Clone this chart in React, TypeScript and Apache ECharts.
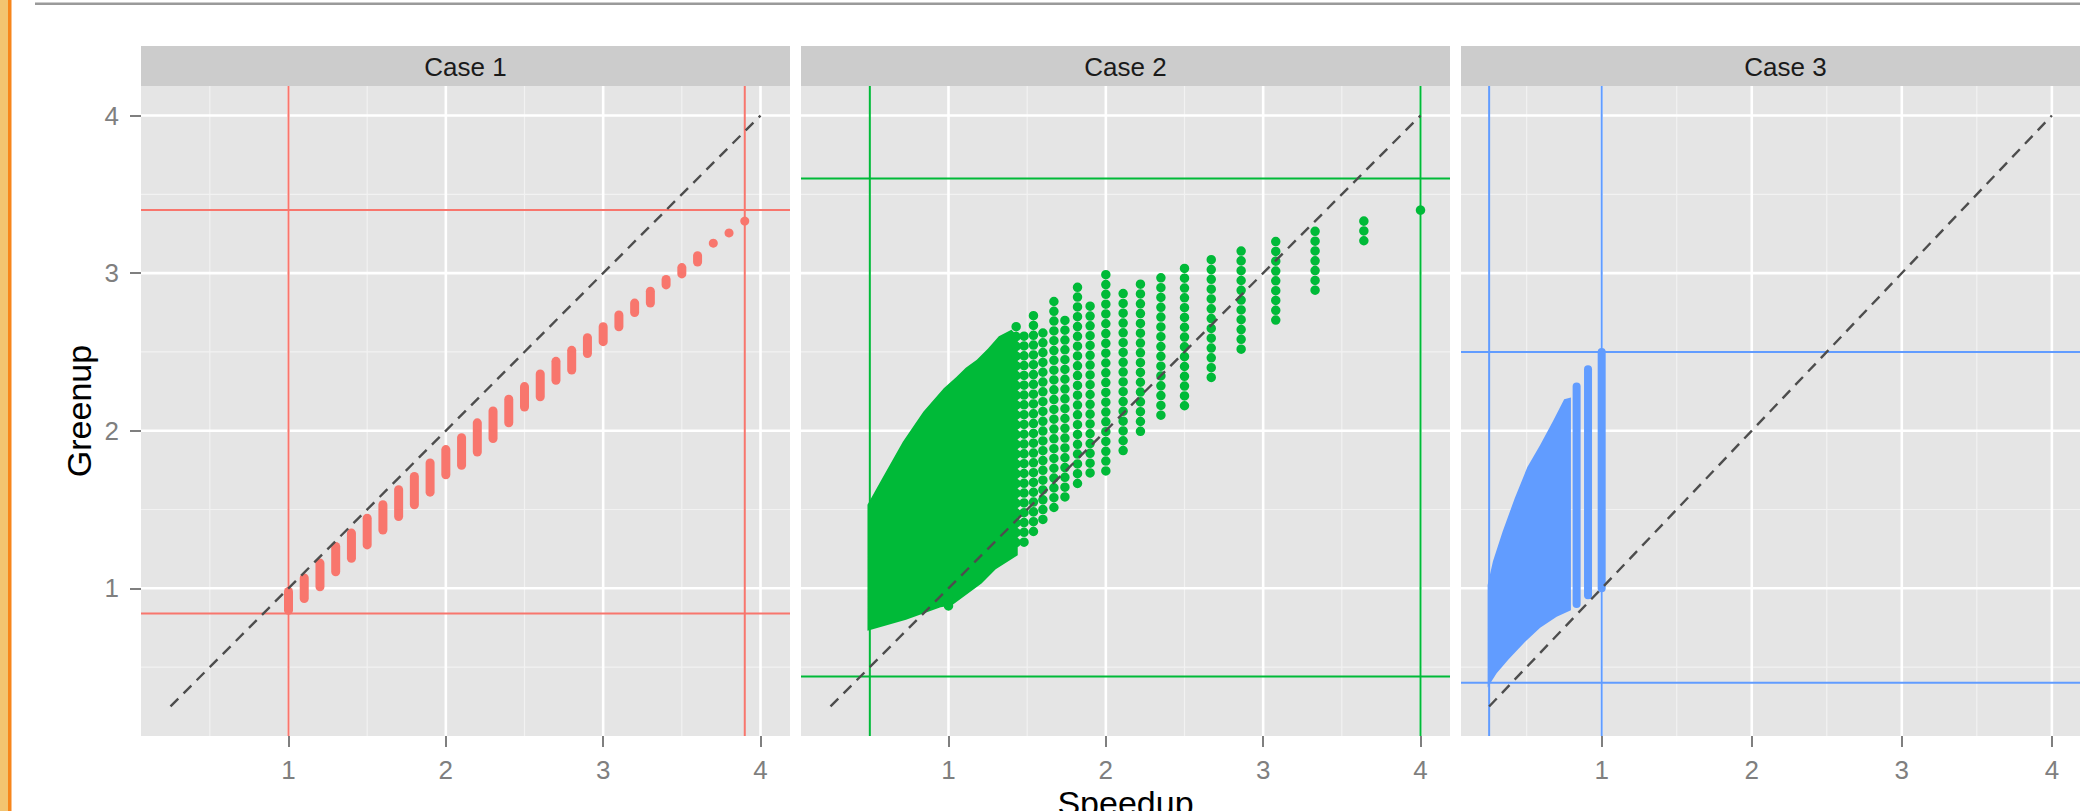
import React, { useEffect, useRef } from "react";
import * as echarts from "echarts";

// ---------- axis / scale ----------
const AXIS_MIN = 0.0625;
const AXIS_MAX = 4.1875;
const tickValues = [1, 2, 3, 4];
const tickLabels = ["1", "2", "3", "4"];
const minorGridValues = [0.5, 1.5, 2.5, 3.5];
const panelTitles = ["Case 1", "Case 2", "Case 3"];
const panelColors = ["#F8766D", "#00BA38", "#619CFF"];
const xTitle = "Speedup";
const yTitle = "Greenup";

// identity reference (dashed)
const diagX = [0.25, 4];
const diagY = [0.25, 4];

// ---------- Case 1 ----------
const case1X = [1.0, 1.1, 1.2, 1.3, 1.4, 1.5, 1.6, 1.7, 1.8, 1.9, 2.0, 2.1, 2.2, 2.3, 2.4, 2.5, 2.6, 2.7, 2.8, 2.9, 3.0, 3.1, 3.2, 3.3, 3.4, 3.5, 3.6, 3.7, 3.8, 3.9];
const case1Top = [0.98, 1.065, 1.16, 1.265, 1.35, 1.445, 1.53, 1.625, 1.71, 1.795, 1.88, 1.955, 2.05, 2.125, 2.2, 2.28, 2.36, 2.44, 2.51, 2.59, 2.66, 2.735, 2.81, 2.885, 2.96, 3.035, 3.11, 3.19, 3.255, 3.33];
const case1Bottom = [0.86, 0.935, 1.01, 1.105, 1.19, 1.275, 1.37, 1.455, 1.53, 1.61, 1.72, 1.78, 1.865, 1.95, 2.05, 2.15, 2.215, 2.32, 2.385, 2.49, 2.565, 2.66, 2.75, 2.81, 2.925, 2.995, 3.07, 3.19, 3.255, 3.33];
const case1VLines = [1.0, 3.9];
const case1HLines = [0.84, 3.4];

// ---------- Case 2 ----------
const case2X = [4.0, 3.64, 3.33, 3.08, 2.86, 2.67, 2.5, 2.35, 2.22, 2.11, 2.0, 1.9, 1.82, 1.74, 1.67, 1.6, 1.54, 1.48, 1.43, 1.0];
const case2Top = [3.4, 3.33, 3.265, 3.2, 3.14, 3.085, 3.03, 2.97, 2.93, 2.87, 2.99, 2.79, 2.91, 2.7, 2.82, 2.62, 2.73, 2.6, 2.66, 0.95];
const case2Bottom = [3.4, 3.15, 2.89, 2.65, 2.48, 2.3, 2.14, 2.05, 1.95, 1.87, 1.725, 1.7, 1.62, 1.55, 1.46, 1.38, 1.31, 1.29, 1.24, 0.86];
const case2AreaX = [0.485, 0.485, 0.58, 0.71, 0.84, 0.97, 1.05, 1.11, 1.18, 1.25, 1.32, 1.4, 1.44, 1.44, 1.41, 1.3, 1.21, 1.1, 1.02, 0.95, 0.73, 0.485];
const case2AreaY = [0.73, 1.53, 1.7, 1.93, 2.12, 2.27, 2.34, 2.4, 2.45, 2.52, 2.6, 2.64, 2.6, 1.21, 1.19, 1.12, 1.03, 0.95, 0.89, 0.88, 0.8, 0.73];
const case2VLines = [0.5, 4.0];
const case2HLines = [0.44, 3.6];

// ---------- Case 3 ----------
const case3X = [0.833, 0.909, 1.0];
const case3Top = [2.28, 2.39, 2.5];
const case3Bottom = [0.9, 0.955, 1.0];
const case3AreaX = [0.24, 0.24, 0.275, 0.34, 0.42, 0.505, 0.59, 0.675, 0.75, 0.795, 0.795, 0.7, 0.59, 0.49, 0.38, 0.3, 0.24];
const case3AreaY = [0.37, 1.02, 1.17, 1.36, 1.57, 1.77, 1.91, 2.06, 2.2, 2.21, 0.86, 0.82, 0.75, 0.66, 0.55, 0.46, 0.37];
const case3VLines = [0.25, 1.0];
const case3HLines = [0.4, 2.5];

// ---------- layout (positions / styles) ----------
const PANEL_LEFT = [141, 801, 1461];
const PANEL_W = 649;
const PANEL_TOP = 86;
const PANEL_H = 650;
const STRIP_TOP = 46;
const FONT = "'Liberation Sans', Arial, Helvetica, sans-serif";

type Api = any;

const vlineRender = (color: string, width: number) => (params: any, api: Api) => {
  const cs = params.coordSys;
  const p = api.coord([api.value(0), api.value(1)]);
  return {
    type: "line",
    shape: { x1: p[0], y1: cs.y, x2: p[0], y2: cs.y + cs.height },
    style: { stroke: color, lineWidth: width },
  };
};
const hlineRender = (color: string, width: number) => (params: any, api: Api) => {
  const cs = params.coordSys;
  const p = api.coord([api.value(0), api.value(1)]);
  return {
    type: "line",
    shape: { x1: cs.x, y1: p[1], x2: cs.x + cs.width, y2: p[1] },
    style: { stroke: color, lineWidth: width },
  };
};

const columnRender = (color: string, width: number, dash: number[] | null) => (params: any, api: Api) => {
  const x = api.value(0);
  const top = api.value(1);
  const bot = api.value(2);
  const p1 = api.coord([x, top]);
  const p2 = api.coord([x, bot]);
  if (top === bot) {
    return { type: "circle", shape: { cx: p1[0], cy: p1[1], r: width / 2 }, style: { fill: color } };
  }
  return {
    type: "line",
    shape: { x1: p1[0], y1: p1[1], x2: p2[0], y2: p2[1] },
    style: { stroke: color, lineWidth: width, lineCap: "round", lineDash: dash || undefined },
  };
};

const areaRender = (xs: number[], ys: number[], color: string) => (params: any, api: Api) => {
  const points = xs.map((x, i) => api.coord([x, ys[i]]));
  return { type: "polygon", shape: { points }, style: { fill: color } };
};

function gridLineSeries(i: number) {
  return [
    {
      type: "custom", xAxisIndex: i, yAxisIndex: i, z: 1, silent: true,
      data: minorGridValues.map((v) => [v, v]), renderItem: vlineRender("#F2F2F2", 1.2),
    },
    {
      type: "custom", xAxisIndex: i, yAxisIndex: i, z: 1, silent: true,
      data: minorGridValues.map((v) => [v, v]), renderItem: hlineRender("#F2F2F2", 1.2),
    },
    {
      type: "custom", xAxisIndex: i, yAxisIndex: i, z: 1, silent: true,
      data: tickValues.map((v) => [v, v]), renderItem: vlineRender("#FFFFFF", 2.6),
    },
    {
      type: "custom", xAxisIndex: i, yAxisIndex: i, z: 1, silent: true,
      data: tickValues.map((v) => [v, v]), renderItem: hlineRender("#FFFFFF", 2.6),
    },
  ];
}

function refLineSeries(i: number, vs: number[], hs: number[], color: string) {
  return [
    {
      type: "custom", xAxisIndex: i, yAxisIndex: i, z: 2, silent: true,
      data: vs.map((v) => [v, v]), renderItem: vlineRender(color, 2),
    },
    {
      type: "custom", xAxisIndex: i, yAxisIndex: i, z: 2, silent: true,
      data: hs.map((v) => [v, v]), renderItem: hlineRender(color, 2),
    },
  ];
}

function columnSeries(i: number, xs: number[], tops: number[], bots: number[], color: string, width: number, dash: number[] | null) {
  return {
    type: "custom", xAxisIndex: i, yAxisIndex: i, z: 3, silent: true,
    encode: { x: 0, y: [1, 2] },
    data: xs.map((x, k) => [x, tops[k], bots[k]]),
    renderItem: columnRender(color, width, dash),
  };
}

function areaSeries(i: number, xs: number[], ys: number[], color: string) {
  return {
    type: "custom", xAxisIndex: i, yAxisIndex: i, z: 3, silent: true,
    data: [[xs[0], ys[0]]],
    renderItem: areaRender(xs, ys, color),
  };
}

function diagSeries(i: number) {
  return {
    type: "line", xAxisIndex: i, yAxisIndex: i, z: 6, silent: true,
    showSymbol: false, symbol: "none",
    data: diagX.map((x, k) => [x, diagY[k]]),
    lineStyle: { color: "#4D4D4D", width: 2.4, type: [11, 7.5] },
  };
}

function buildOption() {
  const grids = PANEL_LEFT.map((left) => ({
    left, top: PANEL_TOP, width: PANEL_W, height: PANEL_H,
    show: true, backgroundColor: "#E5E5E5", borderWidth: 0, containLabel: false,
  }));
  const labelFmt = (v: number) => {
    const k = tickValues.indexOf(v);
    return k >= 0 ? tickLabels[k] : String(v);
  };
  const xAxes = PANEL_LEFT.map((_, i) => ({
    type: "value", gridIndex: i, min: AXIS_MIN, max: AXIS_MAX,
    axisLine: { show: false }, splitLine: { show: false },
    axisTick: { show: true, customValues: tickValues, length: 11, lineStyle: { color: "#555555", width: 1.5 } },
    axisLabel: { customValues: tickValues, formatter: labelFmt, fontSize: 26, color: "#7F7F7F", margin: 21, fontFamily: FONT },
  }));
  const yAxes = PANEL_LEFT.map((_, i) => ({
    type: "value", gridIndex: i, min: AXIS_MIN, max: AXIS_MAX,
    axisLine: { show: false }, splitLine: { show: false },
    axisTick: { show: i === 0, customValues: tickValues, length: 11, lineStyle: { color: "#555555", width: 1.5 } },
    axisLabel: { show: i === 0, customValues: tickValues, formatter: labelFmt, fontSize: 26, color: "#7F7F7F", margin: 22, fontFamily: FONT },
  }));

  const series: any[] = [];
  for (let i = 0; i < 3; i++) series.push(...gridLineSeries(i));
  series.push(...refLineSeries(0, case1VLines, case1HLines, panelColors[0]));
  series.push(...refLineSeries(1, case2VLines, case2HLines, panelColors[1]));
  series.push(...refLineSeries(2, case3VLines, case3HLines, panelColors[2]));

  series.push(columnSeries(0, case1X, case1Top, case1Bottom, panelColors[0], 9, null));
  series.push(areaSeries(1, case2AreaX, case2AreaY, panelColors[1]));
  series.push(columnSeries(1, case2X, case2Top, case2Bottom, panelColors[1], 9.5, [0.01, 9.8]));
  series.push(areaSeries(2, case3AreaX, case3AreaY, panelColors[2]));
  series.push(columnSeries(2, case3X, case3Top, case3Bottom, panelColors[2], 8, null));

  for (let i = 0; i < 3; i++) series.push(diagSeries(i));

  const graphic: any[] = [
    { type: "rect", shape: { x: 0, y: 0, width: 8, height: 811 }, style: { fill: "#F3C470" }, silent: true },
    { type: "rect", shape: { x: 8, y: 0, width: 3.5, height: 811 }, style: { fill: "#F7861C" }, silent: true },
    { type: "rect", shape: { x: 35, y: 2.5, width: 2045, height: 2.5 }, style: { fill: "#9A9A9A" }, silent: true },
  ];
  PANEL_LEFT.forEach((left, i) => {
    graphic.push({
      type: "rect", shape: { x: left, y: STRIP_TOP, width: PANEL_W, height: PANEL_TOP - STRIP_TOP },
      style: { fill: "#CCCCCC" }, silent: true,
    });
    graphic.push({
      type: "text", x: left + PANEL_W / 2, y: (STRIP_TOP + PANEL_TOP) / 2 + 1, silent: true,
      style: {
        text: panelTitles[i], fontSize: 26, fontFamily: FONT, fill: "#1A1A1A",
        align: "center", verticalAlign: "middle", textAlign: "center", textVerticalAlign: "middle",
      },
    });
  });
  graphic.push({
    type: "text", x: PANEL_LEFT[1] + PANEL_W / 2, y: 803, silent: true,
    style: {
      text: xTitle, fontSize: 34, fontFamily: FONT, fill: "#000000",
      align: "center", verticalAlign: "middle", textAlign: "center", textVerticalAlign: "middle",
    },
  });
  graphic.push({
    type: "text", x: 79, y: PANEL_TOP + PANEL_H / 2, rotation: Math.PI / 2, silent: true,
    style: {
      text: yTitle, fontSize: 34, fontFamily: FONT, fill: "#000000",
      align: "center", verticalAlign: "middle", textAlign: "center", textVerticalAlign: "middle",
    },
  });

  return {
    animation: false,
    backgroundColor: "#FFFFFF",
    grid: grids,
    xAxis: xAxes,
    yAxis: yAxes,
    series,
    graphic,
  };
}

export default function App() {
  const ref = useRef<HTMLDivElement>(null);
  useEffect(() => {
    if (!ref.current) return;
    const chart = echarts.init(ref.current, undefined, { renderer: "svg" });
    chart.setOption(buildOption() as any);
    return () => chart.dispose();
  }, []);
  return (
    <div
      ref={ref}
      style={{ position: "absolute", left: 0, top: 0, width: 2080, height: 811 }}
    />
  );
}
